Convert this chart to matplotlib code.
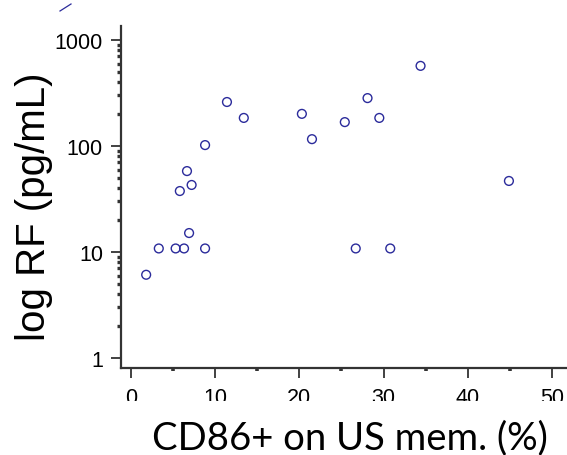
import matplotlib
matplotlib.use("Agg")
import matplotlib.pyplot as plt
from matplotlib.lines import Line2D
from matplotlib.patches import Rectangle
from matplotlib.ticker import FixedLocator, NullFormatter

plt.rcParams["font.family"] = ["Liberation Sans", "DejaVu Sans"]

# CD86+ on unswitched memory B cells (%) vs RF (pg/mL)
cd86_pct = [1.8, 3.3, 5.3, 6.3, 8.8, 6.9, 5.8, 6.65, 7.2, 8.8, 11.4,
            13.4, 20.3, 21.5, 25.4, 28.1, 29.5, 34.4, 26.7, 30.8, 44.9]
rf_pgml = [6.1, 10.8, 10.8, 10.8, 10.8, 15.1, 37.6, 58, 42.9, 102, 260,
           184, 201, 116, 168, 283, 184, 570, 10.8, 10.8, 46.8]

x_ticks = [0, 10, 20, 30, 40, 50]
y_ticks = [1, 10, 100, 1000]
y_tick_labels = ["1", "10", "100", "1000"]

blue = "#2b2b9b"
axis_col = "#333333"

fig = plt.figure(figsize=(5.67, 4.56), dpi=100)
ax = fig.add_axes([121 / 567, 1 - 369 / 456, 1 - 121 / 567, (369 - 27) / 456])

ax.scatter(cd86_pct, rf_pgml, s=40, facecolors="none", edgecolors=blue,
           linewidths=1.0, zorder=3)

ax.set_yscale("log")
ax.set_xlim(-1.19, 51.8)
ax.set_ylim(0.805, 1355)

for side in ("top", "right"):
    ax.spines[side].set_visible(False)
for side in ("left", "bottom"):
    ax.spines[side].set_linewidth(1.6)
    ax.spines[side].set_color(axis_col)

ax.set_xticks(x_ticks)
ax.set_xticklabels([str(t) for t in x_ticks])
ax.xaxis.set_minor_locator(FixedLocator([5, 15, 25, 35, 45]))
ax.set_yticks(y_ticks)
ax.set_yticklabels(y_tick_labels)
minors = [m * 10 ** e for e in range(0, 3) for m in range(2, 10)]
ax.yaxis.set_minor_locator(FixedLocator(minors))
ax.yaxis.set_minor_formatter(NullFormatter())

ax.tick_params(axis="both", which="major", direction="out", length=7,
               width=1.3, color=axis_col, labelsize=15.5,
               labelcolor="black")
ax.tick_params(axis="x", which="major", pad=7)
ax.tick_params(axis="y", which="major", pad=6)
ax.tick_params(axis="x", which="minor", direction="out", length=2.5,
               width=2.6, color=axis_col)
ax.tick_params(axis="y", which="minor", direction="out", length=3,
               width=2.4, color=axis_col)

# white band cutting off the bottom of the x tick labels
fig.add_artist(Rectangle((0, 0), 1, 1 - 402 / 456, transform=fig.transFigure,
                         facecolor="white", edgecolor="none", zorder=5))

fig.text(350 / 567, 1 - 438 / 456, "CD86+ on US mem. (%)", fontsize=27.5,
         family="Lato", ha="center", va="center", zorder=6)
fig.text(34 / 567, 1 - 207 / 456, "log RF (pg/mL)", fontsize=29,
         rotation=90, ha="center", va="center", zorder=6)

# stray stroke at the top left
fig.add_artist(Line2D([60 / 567, 71 / 567], [1 - 12 / 456, 1 - 5 / 456],
                      transform=fig.transFigure, color=blue, lw=0.9))

fig.savefig("out.png", dpi=100)
